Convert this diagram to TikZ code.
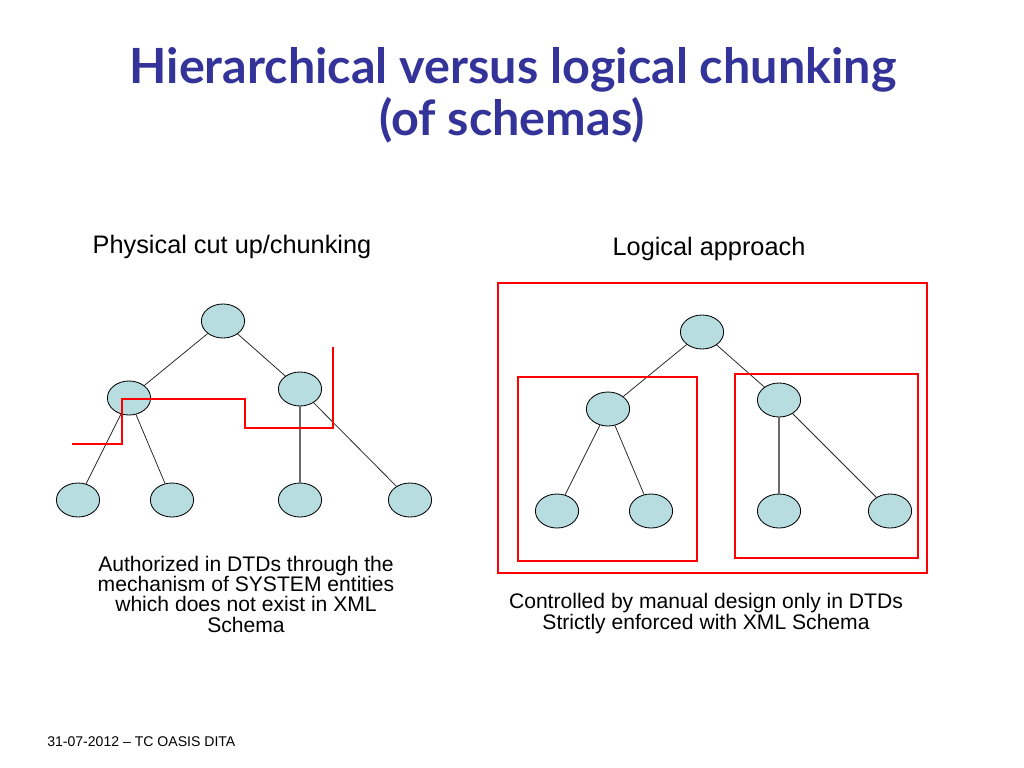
\documentclass[tikz,border=0pt]{standalone}
\usepackage{fontspec}
\setmainfont{Liberation Sans}
\newfontfamily\titlefont{Lato}
\usetikzlibrary{positioning, shapes.geometric}
\definecolor{TitleNavy}{HTML}{333399}
\definecolor{NodeBlue}{HTML}{B7DDE0}
\definecolor{CutRed}{HTML}{FF0000}
\definecolor{EdgeGray}{HTML}{6A6A6A}

\begin{document}
\begin{tikzpicture}[x=0.025cm, y=-0.025cm,
  nd/.style={ellipse, draw=black, line width=0.6pt, fill=NodeBlue, minimum width=1.08cm, minimum height=0.85cm, inner sep=0pt},
  edge/.style={draw=black!85, line width=0.55pt},
  vedge/.style={draw=EdgeGray, line width=1.1pt},
  cut/.style={draw=CutRed, line width=1.7pt},
  lbl/.style={font=\fontsize{18}{20}\selectfont, anchor=base, inner sep=0pt},
  note/.style={font=\fontsize{15}{14.3}\selectfont, align=center, anchor=base, inner sep=0pt}]
  \useasboundingbox (0,0) rectangle (1024,768);

  % title
  \node[font=\titlefont\bfseries\fontsize{34.5}{40}\selectfont, text=TitleNavy, anchor=base] (title) at (513,84) {Hierarchical versus logical chunking};
  \node[font=\titlefont\bfseries\fontsize{34.5}{40}\selectfont, text=TitleNavy, anchor=base] (subtitle) at (512,136) {(of schemas)};

  % headings
  \node[lbl] (phys) at (232,253) {Physical cut up/chunking};
  \node[lbl] (logi) at (709,255) {Logical approach};

  % physical tree
  \node[nd] (pr) at (223,321) {};
  \node[nd] (pa) at (129,398) {};
  \node[nd] (pb) at (300,389) {};
  \node[nd] (pa1) at (78,500) {};
  \node[nd] (pa2) at (172,500) {};
  \node[nd] (pb1) at (300,500) {};
  \node[nd] (pb2) at (410,500) {};
  \draw[edge] (pr) -- (pa);
  \draw[edge] (pr) -- (pb);
  \draw[edge] (pa) -- (pa1);
  \draw[edge] (pa) -- (pa2);
  \draw[vedge] (pb) -- (pb1);
  \draw[edge] (pb) -- (pb2);

  % cut line
  \draw[cut] (72,444) -- (122,444) -- (122,399) -- (245,399) -- (245,428) -- (333,428) -- (333,347);

  % logical tree
  \node[nd] (lr) at (702,332) {};
  \node[nd] (la) at (608,409) {};
  \node[nd] (lb) at (779,400) {};
  \node[nd] (la1) at (557,511) {};
  \node[nd] (la2) at (651,511) {};
  \node[nd] (lb1) at (779,511) {};
  \node[nd] (lb2) at (890,511) {};
  \draw[edge] (lr) -- (la);
  \draw[edge] (lr) -- (lb);
  \draw[edge] (la) -- (la1);
  \draw[edge] (la) -- (la2);
  \draw[vedge] (lb) -- (lb1);
  \draw[edge] (lb) -- (lb2);

  % chunk frames
  \draw[cut] (498,283) rectangle (927,573);
  \draw[cut] (518,377) rectangle (697,561);
  \draw[cut] (735,374) rectangle (918,558);

  % notes
  \node[note] (physnote) at (246,632) {Authorized in DTDs through the\\mechanism of SYSTEM entities\\which does not exist in XML\\Schema};
  \node[note] (loginote) at (706,629) {Controlled by manual design only in DTDs\\Strictly enforced with XML Schema};

  % footer
  \node[font=\fontsize{10}{12}\selectfont, anchor=base west, inner sep=0pt] (foot) at (47,746) {31-07-2012 -- TC OASIS DITA};
\end{tikzpicture}
\end{document}
